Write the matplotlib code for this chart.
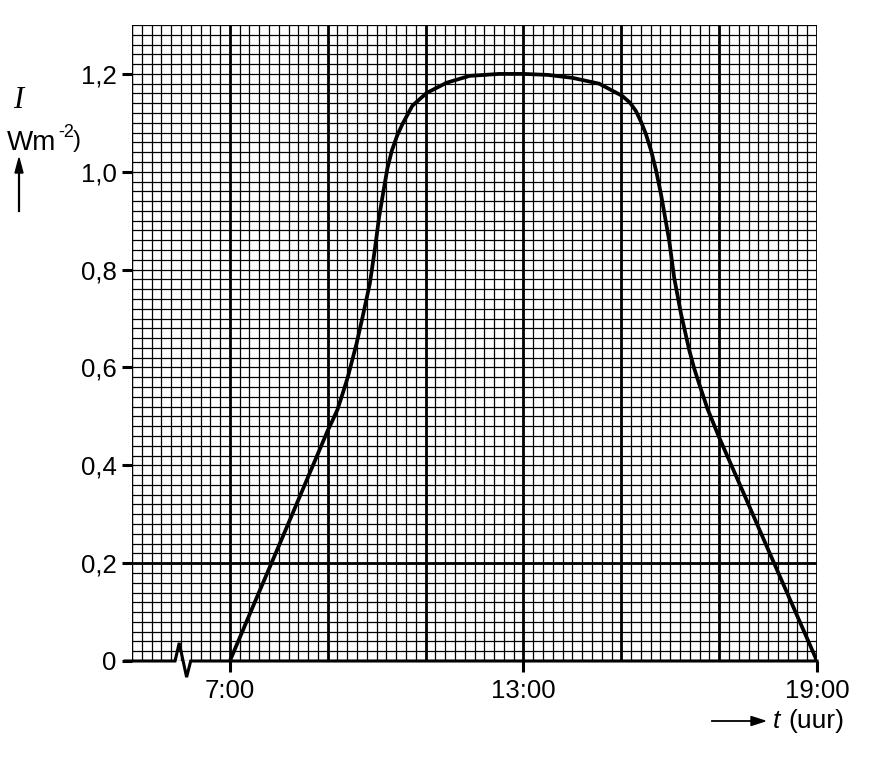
import numpy as np
import matplotlib.pyplot as plt

# Intensity curve (t in hours, I in W/m2)
t_uur = [7.0, 7.5, 8.0, 8.5, 9.0, 9.1, 9.2, 9.3, 9.41, 9.59, 9.71, 9.86,
         9.96, 10.05, 10.14, 10.22, 10.31, 10.42, 10.53, 10.73, 11.02, 11.43,
         11.9, 12.5, 13.0, 13.5, 14.0, 14.55, 15.02, 15.18, 15.3, 15.4, 15.5,
         15.61, 15.71, 15.81, 15.98, 16.08, 16.22, 16.39, 16.49, 16.59, 16.76,
         17.0, 17.5, 18.0, 18.5, 19.0]
intensiteit = [0.0, 0.118, 0.235, 0.353, 0.471, 0.492, 0.514, 0.545, 0.580,
               0.649, 0.702, 0.771, 0.839, 0.907, 0.961, 1.007, 1.043, 1.074,
               1.098, 1.135, 1.161, 1.182, 1.196, 1.200, 1.200, 1.198, 1.192,
               1.180, 1.155, 1.141, 1.124, 1.103, 1.078, 1.043, 1.003, 0.955,
               0.859, 0.784, 0.710, 0.635, 0.598, 0.567, 0.516, 0.457, 0.343,
               0.228, 0.114, 0.0]

y_ticks = [0, 0.2, 0.4, 0.6, 0.8, 1.0, 1.2]
y_labels = ['0', '0,2', '0,4', '0,6', '0,8', '1,0', '1,2']
x_ticks = [7, 13, 19]
x_labels = ['7:00', '13:00', '19:00']

W, H = 877, 759
fig = plt.figure(figsize=(W / 100, H / 100), dpi=100)
ax = fig.add_axes([132 / W, 1 - 661 / H, (817 - 132) / W, (661 - 25) / H])
ax.set_xlim(5, 19)
ax.set_ylim(0, 1.3)
for s in ax.spines.values():
    s.set_visible(False)

# graph paper
for x in np.linspace(5, 19, 71):
    ax.plot([x, x], [0, 1.3], color='black', lw=0.9, zorder=1)
for y in np.linspace(0, 1.3, 66):
    ax.plot([5, 19], [y, y], color='black', lw=0.9, zorder=1)
for x in [7, 9, 11, 13, 15, 17, 19]:
    ax.plot([x, x], [0, 1.3], color='black', lw=2.0, zorder=2)
ax.plot([5, 19], [0.2, 0.2], color='black', lw=2.0, zorder=2)
ax.plot([5, 5], [0, 1.3], color='black', lw=1.6, zorder=2)

# time axis with break symbol
ax.plot([4.86, 5.88, 5.965, 6.116, 6.2, 19], [0, 0, 0.037, -0.033, 0, 0],
        color='black', lw=2.2, zorder=4, clip_on=False, solid_joinstyle='miter')

ax.plot(t_uur, intensiteit, color='black', lw=2.7, zorder=5,
        solid_capstyle='butt', solid_joinstyle='round')

ax.set_yticks(y_ticks)
ax.set_yticklabels(y_labels)
ax.set_xticks(x_ticks)
ax.set_xticklabels(x_labels)
ax.tick_params(axis='y', length=7, width=2.2, pad=4, labelsize=18.5)
ax.tick_params(axis='x', length=8, width=2.2, pad=5, labelsize=18.5)
for lab in ax.get_xticklabels() + ax.get_yticklabels():
    lab.set_family('Liberation Sans')

# axis labels
fig.text(18 / W, 1 - 100 / H, 'I', family='Liberation Serif', style='italic',
         fontsize=22, ha='center', va='center')
fig.text(7 / W, 1 - 150 / H, 'Wm', family='Liberation Sans',
         fontsize=20, ha='left', va='baseline')
fig.text(58 / W, 1 - 137 / H, '-2', family='Liberation Sans',
         fontsize=13, ha='left', va='baseline')
fig.text(73 / W, 1 - 147 / H, ')', family='Liberation Sans',
         fontsize=17, ha='left', va='baseline')
fig.add_artist(plt.Line2D([19 / W, 19 / W], [1 - 211 / H, 1 - 170 / H],
                          color='black', lw=1.6))
fig.add_artist(plt.Polygon([[15 / W, 1 - 173 / H], [23 / W, 1 - 173 / H],
                            [19 / W, 1 - 158 / H]], color='black'))

fig.add_artist(plt.Line2D([712 / W, 755 / W], [1 - 721 / H, 1 - 721 / H],
                          color='black', lw=1.3))
fig.add_artist(plt.Polygon([[751 / W, 1 - 716.5 / H], [751 / W, 1 - 725.5 / H],
                            [765 / W, 1 - 721 / H]], color='black'))
fig.text(773 / W, 1 - 721 / H, 't', family='Liberation Sans', style='italic',
         fontsize=19, ha='left', va='center')
fig.text(788 / W, 1 - 721 / H, '(uur)', family='Liberation Sans',
         fontsize=19, ha='left', va='center')

fig.savefig('out.png', dpi=100)
